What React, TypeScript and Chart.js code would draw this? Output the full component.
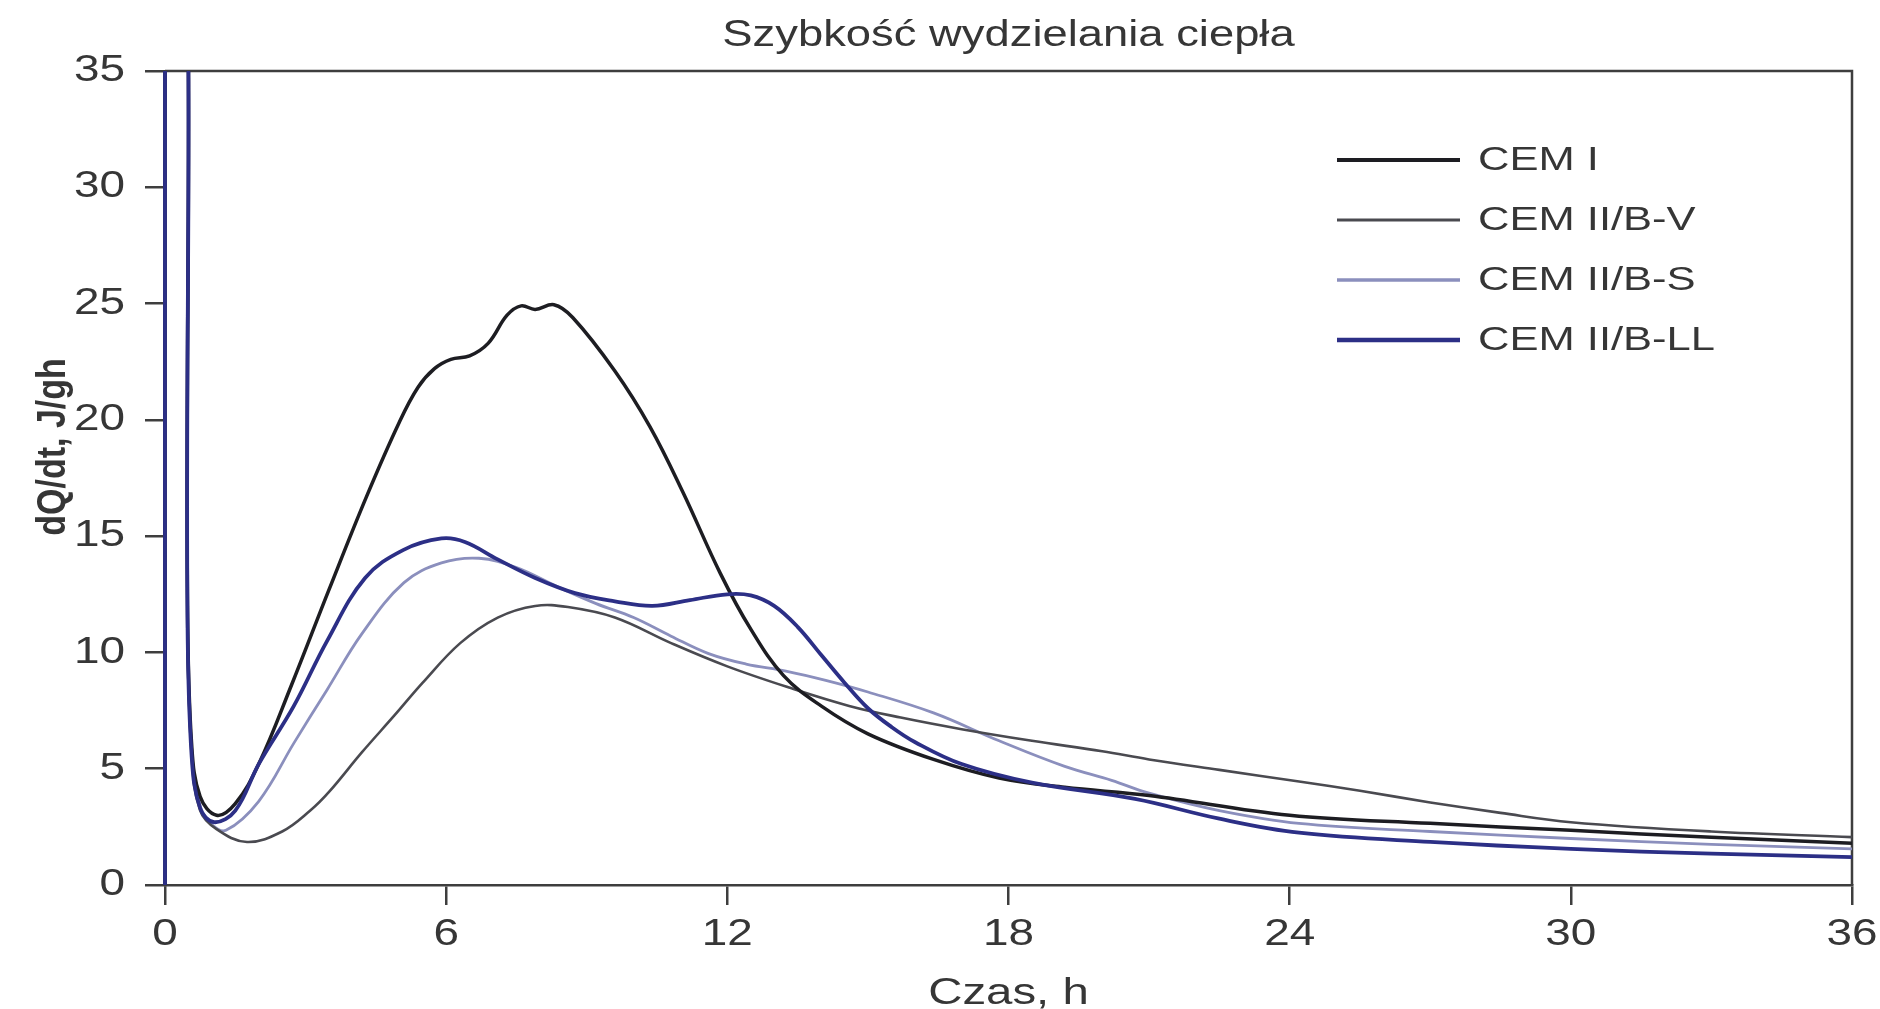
import React, { useEffect, useRef } from "react";
import { Chart, registerables } from "chart.js";

Chart.register(...registerables);

const chartTitle = "Szybkość wydzielania ciepła";
const xAxisTitle = "Czas, h";
const yAxisTitle = "dQ/dt, J/gh";
const seriesLabels = ["CEM I", "CEM II/B-V", "CEM II/B-S", "CEM II/B-LL"];
const seriesColors = ["#1d1d22", "#4a4a50", "#8b8fbd", "#2c2f86"];
const seriesWidths = [3.5, 2.6, 2.8, 3.8];

const xTicks = [0, 6, 12, 18, 24, 30, 36];
const yTicks = [0, 5, 10, 15, 20, 25, 30, 35];

// CEM I
const cem1Time = [0, 0, 0.01, 0.42, 0.48, 0.57, 0.75, 1.1, 1.5, 2.0, 2.7, 3.5, 4.3, 5.0, 5.4, 5.75, 6.1, 6.5, 6.9, 7.3, 7.6, 7.9, 8.3, 8.7, 9.6, 10.35, 11.05, 11.85, 12.5, 13.2, 14.0, 15.0, 16.4, 17.8, 19.2, 21, 24, 27, 30, 33, 36];
const cem1Rate = [0, 40, 45, 45, 12, 6, 3.8, 3.0, 3.5, 5.2, 8.6, 12.7, 16.7, 19.9, 21.4, 22.2, 22.6, 22.75, 23.3, 24.5, 24.9, 24.75, 24.95, 24.4, 22.1, 19.7, 16.9, 13.4, 11.0, 9.0, 7.7, 6.5, 5.4, 4.6, 4.2, 3.85, 3.0, 2.65, 2.35, 2.05, 1.8];

// CEM II/B-V
const cemVTime = [0, 0, 0.01, 0.42, 0.48, 0.57, 0.75, 1.1, 1.75, 2.5, 3.1, 3.5, 4.2, 4.9, 5.5, 6.3, 7.1, 7.9, 8.6, 9.6, 10.8, 12.0, 13.3, 14.6, 15.7, 17.0, 18.5, 20, 21, 22.5, 24.2, 25.5, 27, 28.5, 30, 33, 36];
const cemVRate = [0, 40, 45, 45, 11, 5.5, 3.2, 2.4, 1.85, 2.3, 3.2, 4.0, 5.7, 7.3, 8.7, 10.4, 11.5, 12.0, 11.95, 11.5, 10.4, 9.4, 8.5, 7.7, 7.2, 6.7, 6.2, 5.75, 5.4, 4.95, 4.45, 4.05, 3.55, 3.1, 2.7, 2.3, 2.06];

// CEM II/B-S
const cemSTime = [0, 0, 0.01, 0.42, 0.48, 0.57, 0.75, 1.0, 1.3, 2.0, 2.75, 3.46, 4.2, 5.1, 5.9, 6.7, 7.5, 8.35, 9.2, 10.0, 10.8, 11.6, 12.4, 13.25, 14.1, 15.0, 16.4, 17.8, 19.2, 20.2, 21, 22.5, 24.2, 27, 30, 33, 36];
const cemSRate = [0, 40, 45, 45, 11.5, 5.8, 3.4, 2.6, 2.35, 3.6, 6.1, 8.4, 10.8, 13.0, 13.85, 14.05, 13.65, 12.85, 12.1, 11.5, 10.7, 9.95, 9.5, 9.2, 8.8, 8.3, 7.4, 6.2, 5.1, 4.5, 3.95, 3.2, 2.65, 2.3, 2.0, 1.75, 1.55];

// CEM II/B-LL
const cemLLTime = [0, 0, 0.01, 0.42, 0.48, 0.57, 0.75, 1.05, 1.5, 2.0, 2.75, 3.46, 4.27, 5.08, 5.9, 6.4, 7.1, 7.9, 8.75, 9.6, 10.4, 11.2, 12.0, 12.5, 13.0, 13.5, 14.0, 14.5, 15.0, 15.5, 16.0, 17.0, 18.5, 20.7, 22.5, 24.2, 27, 30, 33, 36];
const cemLLRate = [0, 40, 45, 45, 11.5, 5.5, 3.3, 2.7, 3.2, 5.2, 7.7, 10.5, 13.2, 14.4, 14.9, 14.75, 14.0, 13.2, 12.55, 12.2, 12.0, 12.25, 12.5, 12.45, 12.0, 11.1, 9.9, 8.7, 7.6, 6.8, 6.15, 5.2, 4.4, 3.7, 2.85, 2.25, 1.85, 1.55, 1.35, 1.2];

const seriesTimes = [cem1Time, cemVTime, cemSTime, cemLLTime];
const seriesRates = [cem1Rate, cemVRate, cemSRate, cemLLRate];
const drawOrder = [1, 2, 3, 0];

const FONT = '"Liberation Sans", Arial, Helvetica, sans-serif';
const TEXT = "#363636";
const AXIS = "#3e3e3e";
const STRETCH = 1.24;

function stretchedText(
  ctx: CanvasRenderingContext2D,
  text: string,
  x: number,
  y: number,
  font: string,
  align: CanvasTextAlign,
  sx: number,
  rotate = 0
) {
  ctx.save();
  ctx.translate(x, y);
  ctx.scale(sx, 1);
  if (rotate) ctx.rotate(rotate);
  ctx.font = font;
  ctx.textAlign = align;
  ctx.textBaseline = "middle";
  ctx.fillStyle = TEXT;
  ctx.fillText(text, 0, 0);
  ctx.restore();
}

const framePlugin = {
  id: "frame",
  beforeDatasetsDraw(chart: any) {
    const { ctx, chartArea } = chart;
    ctx.save();
    ctx.strokeStyle = AXIS;
    ctx.lineWidth = 2.5;
    ctx.beginPath();
    ctx.moveTo(chartArea.left, chartArea.top);
    ctx.lineTo(chartArea.right, chartArea.top);
    ctx.lineTo(chartArea.right, chartArea.bottom);
    ctx.stroke();
    ctx.restore();
  },
  afterDraw(chart: any) {
    const { ctx, chartArea, scales } = chart;
    const xs = scales.x;
    const ys = scales.y;
    xTicks.forEach((v) => {
      stretchedText(ctx, String(v), xs.getPixelForValue(v), chartArea.bottom + 50, `37px ${FONT}`, "center", STRETCH);
    });
    yTicks.forEach((v) => {
      stretchedText(ctx, String(v), chartArea.left - 40, ys.getPixelForValue(v), `37px ${FONT}`, "right", STRETCH);
    });
    stretchedText(ctx, chartTitle, (chartArea.left + chartArea.right) / 2, 36, `36px ${FONT}`, "center", 1.26);
    stretchedText(ctx, xAxisTitle, (chartArea.left + chartArea.right) / 2, 994, `37px ${FONT}`, "center", 1.28);
    stretchedText(ctx, yAxisTitle, 54, 447, `bold 34px ${FONT}`, "center", 1.2, -Math.PI / 2);
    const x1 = 1337;
    const x2 = 1460;
    const y0 = 160;
    const dy = 60;
    chart.data.datasets.forEach((ds: any, i: number) => {
      const y = y0 + i * dy;
      ctx.save();
      ctx.strokeStyle = ds.borderColor;
      ctx.lineWidth = ds.borderWidth + 0.5;
      ctx.lineCap = "butt";
      ctx.beginPath();
      ctx.moveTo(x1, y);
      ctx.lineTo(x2, y);
      ctx.stroke();
      ctx.restore();
      stretchedText(ctx, ds.label, 1478, y + 1, `34px ${FONT}`, "left", 1.28);
    });
  },
};

export default function App() {
  const canvasRef = useRef<HTMLCanvasElement | null>(null);

  useEffect(() => {
    if (!canvasRef.current) return;
    const datasets = seriesLabels.map((label, i) => ({
      label,
      data: seriesTimes[i].map((t, j) => ({ x: t, y: seriesRates[i][j] })),
      borderColor: seriesColors[i],
      backgroundColor: seriesColors[i],
      borderWidth: seriesWidths[i],
      pointRadius: 0,
      tension: 0.38,
      fill: false,
      clip: { left: 4, top: 0, right: 0, bottom: 2 },
      order: drawOrder[i],
      borderJoinStyle: "round" as const,
      borderCapStyle: "butt" as const,
    }));

    const chart = new Chart(canvasRef.current, {
      type: "line",
      data: { datasets },
      plugins: [framePlugin],
      options: {
        animation: false,
        responsive: true,
        maintainAspectRatio: false,
        layout: { padding: { left: 0, right: 28, top: 71, bottom: 0 } },
        plugins: {
          legend: { display: false },
          tooltip: { enabled: false },
          title: { display: false },
        },
        scales: {
          x: {
            type: "linear",
            min: 0,
            max: 36,
            afterBuildTicks: (scale: any) => {
              scale.ticks = xTicks.map((v) => ({ value: v }));
            },
            afterFit: (scale: any) => {
              scale.height = 124;
            },
            grid: {
              drawOnChartArea: false,
              drawTicks: true,
              tickLength: 20,
              color: AXIS,
              lineWidth: 2.5,
            },
            border: { display: true, color: AXIS, width: 2.5 },
            ticks: { display: false },
            title: { display: false },
          },
          y: {
            type: "linear",
            min: 0,
            max: 35,
            afterBuildTicks: (scale: any) => {
              scale.ticks = yTicks.map((v) => ({ value: v }));
            },
            afterFit: (scale: any) => {
              scale.width = 165;
            },
            grid: {
              drawOnChartArea: false,
              drawTicks: true,
              tickLength: 20,
              color: AXIS,
              lineWidth: 2.5,
            },
            border: { display: true, color: AXIS, width: 2.5 },
            ticks: { display: false },
            title: { display: false },
          },
        },
      },
    });
    return () => chart.destroy();
  }, []);

  return (
    <div
      style={{
        position: "fixed",
        left: 0,
        top: 0,
        width: "1880px",
        height: "1009px",
        background: "#ffffff",
      }}
    >
      <canvas ref={canvasRef} />
    </div>
  );
}
